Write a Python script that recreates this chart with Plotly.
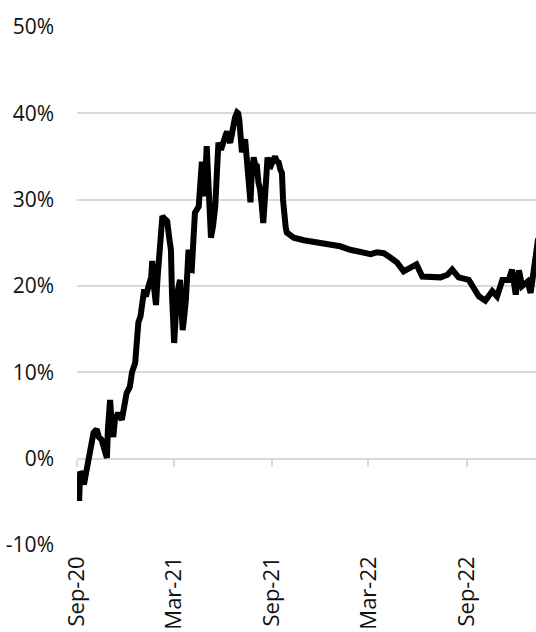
import plotly.graph_objects as go

dates = [
    "2020-09-03", "2020-09-05", "2020-09-07", "2020-09-10", "2020-09-14", "2020-09-18",
    "2020-09-22", "2020-09-27", "2020-10-02", "2020-10-08", "2020-10-12", "2020-10-17",
    "2020-10-22", "2020-10-27", "2020-10-29", "2020-11-02", "2020-11-05", "2020-11-08",
    "2020-11-11", "2020-11-17", "2020-11-24", "2020-11-28", "2020-12-03", "2020-12-09",
    "2020-12-13", "2020-12-19", "2020-12-25", "2020-12-29", "2021-01-05", "2021-01-08",
    "2021-01-10", "2021-01-14", "2021-01-18", "2021-01-20", "2021-01-23", "2021-01-27",
    "2021-01-30", "2021-02-02", "2021-02-06", "2021-02-08", "2021-02-12", "2021-02-17",
    "2021-02-21", "2021-02-24", "2021-02-26", "2021-03-02", "2021-03-05", "2021-03-08",
    "2021-03-13", "2021-03-18", "2021-03-21", "2021-03-24", "2021-03-29", "2021-03-31",
    "2021-04-04", "2021-04-07", "2021-04-10", "2021-04-17", "2021-04-20", "2021-04-23",
    "2021-04-26", "2021-04-29", "2021-05-02", "2021-05-06", "2021-05-10", "2021-05-14",
    "2021-05-18", "2021-05-21", "2021-05-24", "2021-05-27", "2021-05-30", "2021-06-04",
    "2021-06-09", "2021-06-12", "2021-06-15", "2021-06-18", "2021-06-21", "2021-06-24",
    "2021-06-28", "2021-06-30", "2021-07-02", "2021-07-05", "2021-07-07", "2021-07-09",
    "2021-07-13", "2021-07-16", "2021-07-19", "2021-07-23", "2021-07-25", "2021-07-29",
    "2021-08-01", "2021-08-04", "2021-08-07", "2021-08-10", "2021-08-13", "2021-08-16",
    "2021-08-20", "2021-08-24", "2021-08-27", "2021-08-30", "2021-09-03", "2021-09-07",
    "2021-09-10", "2021-09-14", "2021-09-17", "2021-09-20", "2021-09-22", "2021-09-24",
    "2021-09-27", "2021-09-29", "2021-10-06", "2021-10-12", "2021-10-31", "2021-11-25",
    "2021-12-20", "2022-01-07", "2022-01-26", "2022-02-14", "2022-03-05", "2022-03-17",
    "2022-03-30", "2022-04-11", "2022-04-24", "2022-05-06", "2022-05-19", "2022-05-30",
    "2022-06-10", "2022-06-25", "2022-07-14", "2022-07-27", "2022-08-05", "2022-08-17",
    "2022-09-05", "2022-09-14", "2022-09-24", "2022-10-06", "2022-10-19", "2022-10-28",
    "2022-11-07", "2022-11-19", "2022-11-25", "2022-12-02", "2022-12-08", "2022-12-14",
    "2022-12-24", "2022-12-30", "2023-01-05", "2023-01-10", "2023-01-13",
]

returns_pct = [
    -2.4, -4.9, -1.5, -1.8, -3.0, -1.6,
    -0.5, 1.5, 3.0, 3.4, 2.5, 2.2,
    1.0, 0.1, 3.5, 6.8, 4.0, 2.5,
    4.5, 5.3, 4.5, 6.5, 7.6, 8.3,
    10.0, 11.1, 15.8, 16.5, 19.6, 18.8,
    19.5, 20.2, 21.0, 22.9, 20.0, 17.8,
    21.0, 23.9, 26.5, 28.1, 27.8, 27.5,
    25.5, 24.2, 19.0, 13.4, 16.5, 19.2,
    20.7, 14.9, 16.5, 18.4, 24.2, 22.0,
    21.9, 25.0, 28.5, 29.2, 31.5, 34.4,
    30.4, 32.0, 36.2, 31.0, 25.6, 27.0,
    29.2, 33.0, 36.6, 36.0, 36.0, 37.0,
    37.9, 37.0, 36.6, 37.5, 38.9, 39.5,
    40.1, 40.0, 39.3, 37.0, 35.5, 36.0,
    37.0, 35.0, 33.9, 29.7, 32.5, 34.9,
    34.0, 33.9, 32.0, 31.2, 29.5, 27.3,
    31.0, 34.9, 34.0, 33.9, 34.5, 35.0,
    34.5, 34.3, 33.5, 33.1, 30.0, 28.1,
    26.8, 26.2, 25.8, 25.6, 25.3, 25.1,
    24.8, 24.6, 24.2, 24.0, 23.7, 23.9,
    23.8, 23.3, 22.7, 21.7, 22.1, 22.5,
    21.1, 21.1, 21.0, 21.3, 21.9, 21.0,
    20.7, 19.8, 18.8, 18.3, 19.4, 18.8,
    20.7, 20.7, 21.9, 19.0, 21.8, 20.0,
    20.5, 19.2, 22.3, 24.6, 25.5,
]

tick_dates = ["2020-09-01", "2021-03-01", "2021-09-01", "2022-03-01", "2022-09-01"]
tick_labels = ["Sep-20", "Mar-21", "Sep-21", "Mar-22", "Sep-22"]

y_ticks = [-10, 0, 10, 20, 30, 40, 50]
y_labels = ["-10%", "0%", "10%", "20%", "30%", "40%", "50%"]

FONT = "Open Sans, Noto Sans, sans-serif"
GRID = "#d9d9d9"
TEXT = "#111111"
x_range = ["2020-09-01", "2023-01-09"]

fig = go.Figure()
fig.add_trace(go.Scatter(
    x=dates, y=returns_pct, mode="lines",
    line=dict(color="#000000", width=6),
    hoverinfo="skip", showlegend=False,
))
# invisible trace carrying the tick-mark axis drawn at the 0% line
fig.add_trace(go.Scatter(
    x=dates, y=returns_pct, mode="markers", xaxis="x2",
    marker=dict(opacity=0), hoverinfo="skip", showlegend=False,
))

y_min, y_max = -10, 50
fig.update_layout(
    width=536, height=632,
    margin=dict(l=77, r=0, t=27, b=87, autoexpand=False),
    paper_bgcolor="white", plot_bgcolor="white",
    font=dict(family=FONT, size=21, color=TEXT),
    xaxis=dict(
        range=x_range, tickvals=tick_dates, ticktext=tick_labels,
        tickangle=-90, showgrid=False, zeroline=False, showline=False,
        ticks="", ticklabelstandoff=6, automargin=False,
        tickfont=dict(family=FONT, size=22, color=TEXT),
    ),
    xaxis2=dict(
        range=x_range, overlaying="x", anchor="free",
        position=(0 - y_min) / (y_max - y_min),
        tickvals=tick_dates, showticklabels=False, showgrid=False,
        zeroline=False, showline=False, automargin=False,
        ticks="outside", ticklen=7, tickwidth=1.5, tickcolor=GRID,
    ),
    yaxis=dict(
        range=[y_min, y_max], tickvals=y_ticks, ticktext=y_labels,
        showgrid=True, gridcolor=GRID, gridwidth=1.5,
        zeroline=False, showline=False, ticks="", automargin=False,
        ticklabelstandoff=22,
        tickfont=dict(family=FONT, size=21, color=TEXT),
    ),
)

fig.write_html("out.html")
